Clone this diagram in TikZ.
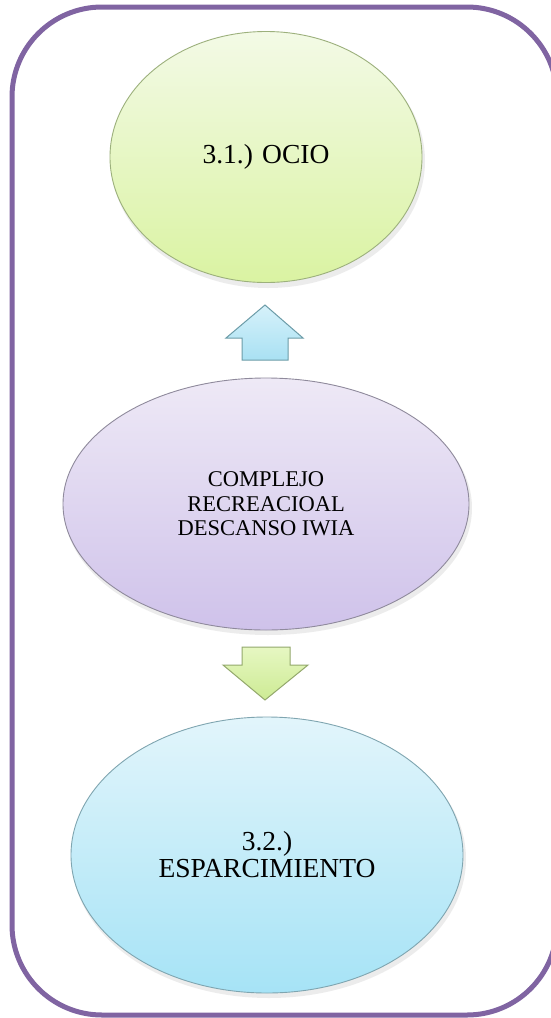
\documentclass[tikz,border=0pt]{standalone}
\usepackage{fontspec}
\setmainfont{Liberation Serif}
\usetikzlibrary{shapes.geometric}
\definecolor{frame}{HTML}{8064A2}
\definecolor{gtop}{HTML}{F3FAE6}
\definecolor{gbot}{HTML}{DAF3A2}
\definecolor{gline}{HTML}{9CB07C}
\definecolor{ptop}{HTML}{EEE9F6}
\definecolor{pbot}{HTML}{CFC2EA}
\definecolor{pline}{HTML}{8F8A9C}
\definecolor{btop}{HTML}{E2F5FB}
\definecolor{bbot}{HTML}{A6E3F6}
\definecolor{bline}{HTML}{7FA5B0}
\definecolor{atop}{HTML}{D6F1FA}
\definecolor{abot}{HTML}{A9E1F3}
\definecolor{aline}{HTML}{6C9CA8}
\definecolor{ntop}{HTML}{E6F7C2}
\definecolor{nbot}{HTML}{CDEB94}
\definecolor{nline}{HTML}{93A86C}
\tikzset{
  bubble/.style={ellipse, inner sep=0pt, align=center, line width=0.9pt},
  shadowed/.style={fill=black!60, opacity=0.12},
  blockarrow/.style={line width=1pt, line join=miter}
}
\begin{document}
\begin{tikzpicture}[x=1pt,y=-1pt]
\useasboundingbox (0,0) rectangle (551,1018);
\fill[white] (0,0) rectangle (551,1018);
% outer frame
\draw[frame, line width=5pt, rounded corners=90pt] (12,7) rectangle (557,1015);
% shadows
\fill[shadowed] (268,161) ellipse [x radius=157pt, y radius=127pt];
\fill[shadowed] (268,508) ellipse [x radius=204pt, y radius=127pt];
\fill[shadowed] (269,859) ellipse [x radius=197pt, y radius=139pt];
% ellipses
\node[bubble, draw=gline, top color=gtop, bottom color=gbot,
      minimum width=312pt, minimum height=251pt,
      font=\fontsize{27.5}{31}\selectfont] (ocio) at (266,157) {3.1.) OCIO};
\node[bubble, draw=pline, top color=ptop, bottom color=pbot,
      minimum width=406pt, minimum height=252pt,
      font=\fontsize{22.5}{24.5}\selectfont] (comp) at (266,504)
      {COMPLEJO\\RECREACIOAL\\DESCANSO IWIA};
\node[bubble, draw=bline, top color=btop, bottom color=bbot,
      minimum width=392pt, minimum height=276pt,
      font=\fontsize{27.5}{27}\selectfont] (espa) at (267,855)
      {3.2.)\\ESPARCIMIENTO};
% block arrows
\coordinate (uptip) at (265,305);
\coordinate (downtip) at (265,700);
\draw[blockarrow, draw=aline, top color=atop, bottom color=abot]
  (uptip) -- (303,338) -- (288,338) -- (288,360) -- (242,360) -- (242,338) -- (226,338) -- cycle;
\draw[blockarrow, draw=nline, top color=ntop, bottom color=nbot]
  (242,647) -- (290,647) -- (290,665) -- (308,665) -- (downtip) -- (223,665) -- (242,665) -- cycle;
\end{tikzpicture}
\end{document}
